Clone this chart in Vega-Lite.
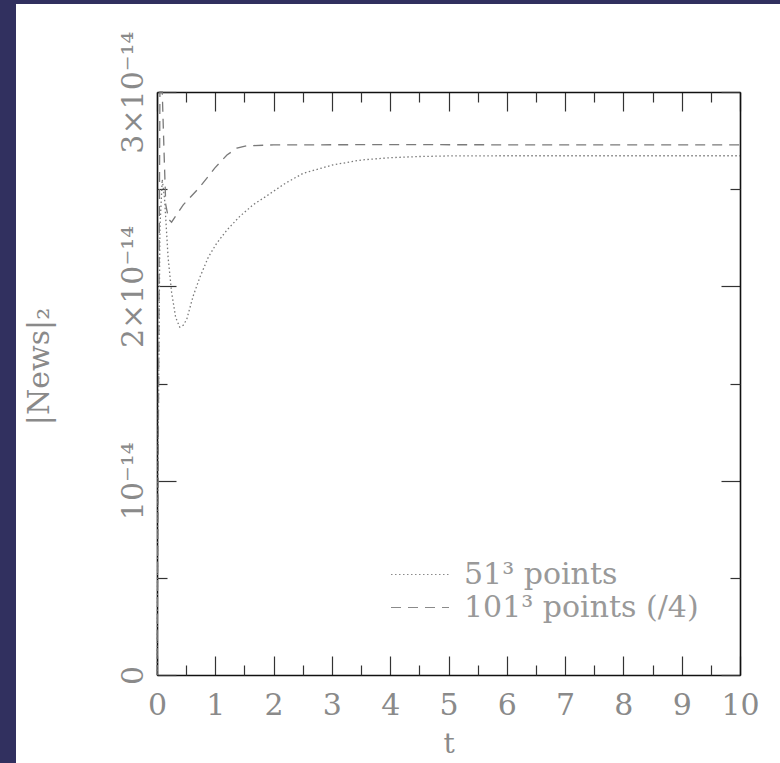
{
  "$schema": "https://vega.github.io/schema/vega-lite/v6.json",
  "autosize": {"type": "none"},
  "padding": {"left": 16, "top": 4, "right": 0, "bottom": 0},
  "width": 764,
  "height": 759,
  "background": "#31305f",
  "config": {
    "view": {"stroke": null, "fill": "white"},
    "axis": {"grid": false, "labelFont": "DejaVu Serif", "titleFont": "DejaVu Serif", "labelColor": "#8a8a8a", "titleColor": "#8a8a8a", "titleFontWeight": "normal", "labelFontSize": 30, "titleFontSize": 30, "tickColor": "#333", "tickWidth": 1.2, "domainColor": "#111", "domainWidth": 1.6, "labelFlush": false, "labelOverlap": false}
  },
  "data": {"values": [
    {"t": 0, "news": 0, "series": "51³ points"},
    {"t": 0.02, "news": 1.2e-14, "series": "51³ points"},
    {"t": 0.05, "news": 2.3e-14, "series": "51³ points"},
    {"t": 0.09, "news": 2.55e-14, "series": "51³ points"},
    {"t": 0.13, "news": 2.45e-14, "series": "51³ points"},
    {"t": 0.19, "news": 2.15e-14, "series": "51³ points"},
    {"t": 0.25, "news": 1.97e-14, "series": "51³ points"},
    {"t": 0.32, "news": 1.84e-14, "series": "51³ points"},
    {"t": 0.39, "news": 1.79e-14, "series": "51³ points"},
    {"t": 0.45, "news": 1.8e-14, "series": "51³ points"},
    {"t": 0.51, "news": 1.83e-14, "series": "51³ points"},
    {"t": 0.62, "news": 1.95e-14, "series": "51³ points"},
    {"t": 0.74, "news": 2.05e-14, "series": "51³ points"},
    {"t": 0.88, "news": 2.15e-14, "series": "51³ points"},
    {"t": 1.02, "news": 2.22e-14, "series": "51³ points"},
    {"t": 1.2, "news": 2.29e-14, "series": "51³ points"},
    {"t": 1.42, "news": 2.36e-14, "series": "51³ points"},
    {"t": 1.65, "news": 2.42e-14, "series": "51³ points"},
    {"t": 1.88, "news": 2.465e-14, "series": "51³ points"},
    {"t": 2.2, "news": 2.53e-14, "series": "51³ points"},
    {"t": 2.51, "news": 2.582e-14, "series": "51³ points"},
    {"t": 3.02, "news": 2.625e-14, "series": "51³ points"},
    {"t": 3.5, "news": 2.65e-14, "series": "51³ points"},
    {"t": 4.0, "news": 2.662e-14, "series": "51³ points"},
    {"t": 4.5, "news": 2.668e-14, "series": "51³ points"},
    {"t": 5.0, "news": 2.671e-14, "series": "51³ points"},
    {"t": 6.0, "news": 2.672e-14, "series": "51³ points"},
    {"t": 8.0, "news": 2.672e-14, "series": "51³ points"},
    {"t": 10.0, "news": 2.672e-14, "series": "51³ points"},
    {"t": 0, "news": 0, "series": "101³ points (/4)"},
    {"t": 0.02, "news": 1.0e-14, "series": "101³ points (/4)"},
    {"t": 0.05, "news": 3.0e-14, "series": "101³ points (/4)"},
    {"t": 0.09, "news": 3.0e-14, "series": "101³ points (/4)"},
    {"t": 0.12, "news": 2.7e-14, "series": "101³ points (/4)"},
    {"t": 0.15, "news": 2.42e-14, "series": "101³ points (/4)"},
    {"t": 0.2, "news": 2.345e-14, "series": "101³ points (/4)"},
    {"t": 0.25, "news": 2.33e-14, "series": "101³ points (/4)"},
    {"t": 0.45, "news": 2.419e-14, "series": "101³ points (/4)"},
    {"t": 0.74, "news": 2.513e-14, "series": "101³ points (/4)"},
    {"t": 0.99, "news": 2.608e-14, "series": "101³ points (/4)"},
    {"t": 1.2, "news": 2.676e-14, "series": "101³ points (/4)"},
    {"t": 1.37, "news": 2.711e-14, "series": "101³ points (/4)"},
    {"t": 1.54, "news": 2.723e-14, "series": "101³ points (/4)"},
    {"t": 2.0, "news": 2.728e-14, "series": "101³ points (/4)"},
    {"t": 4.0, "news": 2.729e-14, "series": "101³ points (/4)"},
    {"t": 7.0, "news": 2.728e-14, "series": "101³ points (/4)"},
    {"t": 10.0, "news": 2.728e-14, "series": "101³ points (/4)"}
  ]},
  "resolve": {"axis": {"x": "independent", "y": "independent"}},
  "layer": [
    {
      "mark": {"type": "line", "stroke": "#7a7a7a", "strokeWidth": 1.3},
      "encoding": {
        "x": {"field": "t", "type": "quantitative",
          "scale": {"domain": [0, 10], "range": [141, 724], "nice": false, "zero": false},
          "axis": {"orient": "bottom", "offset": -88, "values": [0,1,2,3,4,5,6,7,8,9,10], "tickSize": -19, "labelPadding": 34, "title": "t", "titlePadding": 10, "titleFontSize": 28, "labelBaseline": "top"}},
        "y": {"field": "news", "type": "quantitative",
          "scale": {"domain": [0, 3e-14], "range": [671, 88], "nice": false, "zero": false},
          "axis": {"orient": "left", "offset": -141, "values": [0, 1e-14, 2e-14, 3e-14], "tickSize": -19, "labelPadding": 34, "labelAngle": -90, "labelAlign": "center", "labelBaseline": "alphabetic",
            "labelExpr": "datum.value < 0.5e-14 ? '0' : datum.value < 1.5e-14 ? '10⁻¹⁴' : datum.value < 2.5e-14 ? '2×10⁻¹⁴' : '3×10⁻¹⁴'",
            "title": "|News|₂", "titlePadding": 70, "titleAngle": -90, "titleBaseline": "alphabetic", "titleY": 362}},
        "strokeDash": {"field": "series", "type": "nominal",
          "scale": {"domain": ["51³ points", "101³ points (/4)"], "range": [[1.5, 2.5], [10, 7]]},
          "legend": {"orient": "none", "legendX": 374, "legendY": 554, "title": null, "symbolType": "stroke", "symbolSize": 3364, "symbolStrokeColor": "#8a8a8a", "symbolStrokeWidth": 1.2, "clipHeight": 33, "rowPadding": 0, "padding": 0, "labelOffset": 14, "labelFont": "DejaVu Serif", "labelFontSize": 30, "labelColor": "#999", "labelBaseline": "middle", "labelLimit": 400}}
      }
    },
    {
      "mark": {"type": "point", "opacity": 0},
      "encoding": {
        "x": {"field": "t", "type": "quantitative",
          "scale": {"domain": [0, 10], "range": [141, 724], "nice": false, "zero": false},
          "axis": {"orient": "top", "offset": -88, "values": [0,1,2,3,4,5,6,7,8,9,10], "tickSize": -19, "labels": false, "title": null}},
        "y": {"field": "news", "type": "quantitative",
          "scale": {"domain": [0, 3e-14], "range": [671, 88], "nice": false, "zero": false},
          "axis": {"orient": "right", "offset": -40, "values": [0, 1e-14, 2e-14, 3e-14], "tickSize": -19, "labels": false, "title": null}}
      }
    },
    {
      "mark": {"type": "point", "opacity": 0},
      "encoding": {
        "x": {"field": "t", "type": "quantitative",
          "scale": {"domain": [0, 10], "range": [141, 724], "nice": false, "zero": false},
          "axis": {"orient": "bottom", "offset": -88, "values": [0.5,1.5,2.5,3.5,4.5,5.5,6.5,7.5,8.5,9.5], "tickSize": -10, "labels": false, "domain": false, "title": null}},
        "y": {"field": "news", "type": "quantitative",
          "scale": {"domain": [0, 3e-14], "range": [671, 88], "nice": false, "zero": false},
          "axis": {"orient": "left", "offset": -141, "values": [0.5e-14, 1.5e-14, 2.5e-14], "tickSize": -10, "labels": false, "domain": false, "title": null}}
      }
    },
    {
      "mark": {"type": "point", "opacity": 0},
      "encoding": {
        "x": {"field": "t", "type": "quantitative",
          "scale": {"domain": [0, 10], "range": [141, 724], "nice": false, "zero": false},
          "axis": {"orient": "top", "offset": -88, "values": [0.5,1.5,2.5,3.5,4.5,5.5,6.5,7.5,8.5,9.5], "tickSize": -10, "labels": false, "domain": false, "title": null}},
        "y": {"field": "news", "type": "quantitative",
          "scale": {"domain": [0, 3e-14], "range": [671, 88], "nice": false, "zero": false},
          "axis": {"orient": "right", "offset": -40, "values": [0.5e-14, 1.5e-14, 2.5e-14], "tickSize": -10, "labels": false, "domain": false, "title": null}}
      }
    }
  ]
}
